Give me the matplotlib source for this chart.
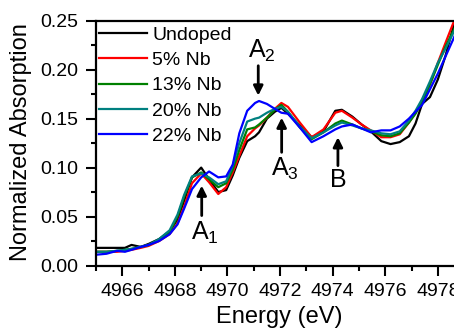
import matplotlib
matplotlib.use("Agg")
import matplotlib.pyplot as plt
from matplotlib.ticker import MultipleLocator

plt.rcParams['font.family'] = ['Liberation Sans', 'DejaVu Sans']
plt.rcParams['mathtext.fontset'] = 'custom'
plt.rcParams['mathtext.rm'] = 'Liberation Sans'
plt.rcParams['mathtext.it'] = 'Liberation Sans:italic'

energy = [4965.0, 4965.4, 4965.8, 4966.1, 4966.35, 4966.7, 4967.0, 4967.4, 4967.8, 4968.1,
          4968.35, 4968.65, 4969.0, 4969.3, 4969.65, 4969.95, 4970.2, 4970.45, 4970.75, 4971.05,
          4971.2, 4971.5, 4971.8, 4972.05, 4972.3, 4972.75, 4973.2, 4973.65, 4974.1, 4974.35,
          4974.75, 4975.1, 4975.45, 4975.85, 4976.2, 4976.55, 4976.9, 4977.15, 4977.4, 4977.7,
          4978.0, 4978.3, 4978.65]

undoped = [0.018, 0.018, 0.018, 0.018, 0.021, 0.019, 0.022, 0.027, 0.035, 0.047,
           0.066, 0.090, 0.100, 0.088, 0.075, 0.077, 0.092, 0.110, 0.127, 0.132,
           0.136, 0.150, 0.157, 0.161, 0.155, 0.143, 0.131, 0.137, 0.158, 0.159,
           0.152, 0.144, 0.137, 0.127, 0.124, 0.126, 0.132, 0.145, 0.165, 0.172,
           0.190, 0.215, 0.250]

nb5 = [0.014, 0.014, 0.014, 0.015, 0.016, 0.018, 0.020, 0.025, 0.032, 0.043,
       0.060, 0.084, 0.094, 0.085, 0.073, 0.080, 0.095, 0.112, 0.132, 0.140,
       0.143, 0.151, 0.160, 0.166, 0.162, 0.146, 0.131, 0.139, 0.156, 0.158,
       0.151, 0.144, 0.138, 0.131, 0.131, 0.134, 0.146, 0.156, 0.168, 0.185,
       0.207, 0.228, 0.252]

nb13 = [0.014, 0.014, 0.015, 0.016, 0.017, 0.019, 0.021, 0.026, 0.034, 0.050,
        0.070, 0.090, 0.095, 0.088, 0.080, 0.084, 0.098, 0.118, 0.139, 0.141,
        0.144, 0.151, 0.159, 0.164, 0.157, 0.141, 0.129, 0.136, 0.145, 0.148,
        0.144, 0.140, 0.137, 0.133, 0.132, 0.135, 0.146, 0.155, 0.167, 0.185,
        0.205, 0.224, 0.243]

nb20 = [0.014, 0.014, 0.015, 0.016, 0.017, 0.019, 0.021, 0.027, 0.036, 0.052,
        0.072, 0.091, 0.094, 0.090, 0.083, 0.086, 0.102, 0.125, 0.147, 0.150,
        0.151, 0.156, 0.160, 0.162, 0.157, 0.142, 0.130, 0.136, 0.143, 0.146,
        0.143, 0.140, 0.138, 0.135, 0.134, 0.137, 0.148, 0.158, 0.170, 0.188,
        0.207, 0.222, 0.241]

nb22 = [0.011, 0.012, 0.015, 0.014, 0.016, 0.019, 0.021, 0.025, 0.032, 0.042,
        0.058, 0.078, 0.090, 0.096, 0.090, 0.091, 0.103, 0.135, 0.158, 0.166,
        0.168, 0.165, 0.160, 0.156, 0.155, 0.141, 0.126, 0.132, 0.139, 0.142,
        0.144, 0.140, 0.136, 0.138, 0.138, 0.142, 0.150, 0.157, 0.164, 0.180,
        0.196, 0.214, 0.235]

series_labels = ['Undoped', '5% Nb', '13% Nb', '20% Nb', '22% Nb']
series_colors = ['black', '#ff0000', '#008000', '#008080', '#0000ff']

x_ticks = [4966, 4968, 4970, 4972, 4974, 4976, 4978]
y_ticks = [0.00, 0.05, 0.10, 0.15, 0.20, 0.25]

# annotations: (label, subscript, energy, head y, tail y, text y)
annot_labels = ['A', 'A', 'A', 'B']
annot_subs = ['1', '2', '3', '']
annot_x = [4969.02, 4971.17, 4972.06, 4974.2]
annot_head = [0.0816, 0.1735, 0.151, 0.131]
annot_tail = [0.051, 0.204, 0.1156, 0.102]
annot_text = [0.033, 0.219, 0.099, 0.087]

fig = plt.figure(figsize=(4.54, 3.31), dpi=100)
ax = fig.add_axes([96/454, (331-265.5)/331, (456-96)/454, (265.5-20.7)/331])

for ys, lab, col in zip([undoped, nb5, nb13, nb20, nb22], series_labels, series_colors):
    ax.plot(energy, ys, color=col, lw=1.6, label=lab)

ax.set_xlim(4965.0, 4978.69)
ax.set_ylim(0.0, 0.25)
ax.set_xticks(x_ticks)
ax.set_yticks(y_ticks)
ax.set_yticklabels([f'{v:.2f}' for v in y_ticks])
ax.xaxis.set_minor_locator(MultipleLocator(1))
ax.yaxis.set_minor_locator(MultipleLocator(0.025))
ax.tick_params(which='major', direction='out', length=7, width=1.5, labelsize=14, pad=5.5)
ax.tick_params(which='minor', direction='out', length=3.8, width=1.5)
for s in ax.spines.values():
    s.set_linewidth(1.6)

fig.text(279/454, 1 - 317/331, 'Energy (eV)', fontsize=17, ha='center', va='center')
fig.text(21/454, 1 - 142.5/331, 'Normalized Absorption', fontsize=17, ha='center', va='center',
         rotation=90)

for lab, sub, xe, yh, yt, ytx in zip(annot_labels, annot_subs, annot_x, annot_head, annot_tail, annot_text):
    ax.annotate('', xy=(xe, yh), xytext=(xe, yt),
                arrowprops=dict(arrowstyle='-|>', lw=2, color='black', mutation_scale=14,
                                shrinkA=0, shrinkB=0))
    txt = f'$\\mathrm{{{lab}_{{{sub}}}}}$' if sub else lab
    ax.text(xe + (0.14 if sub else 0), ytx, txt, fontsize=18, ha='center', va='center')

leg = ax.legend(loc='upper left', bbox_to_anchor=(-0.025, 1.026), frameon=False, fontsize=14,
                handlelength=2.5, handletextpad=0.25, labelspacing=0.40, borderaxespad=0.2)

fig.savefig('out.png', dpi=100)
